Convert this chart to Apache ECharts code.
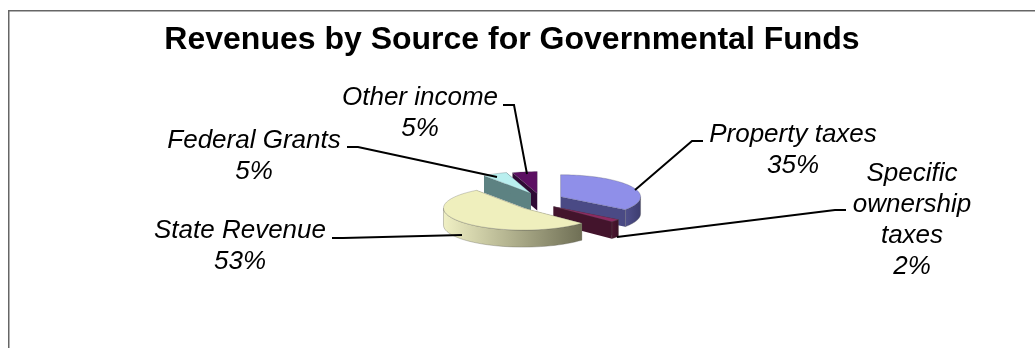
<!DOCTYPE html>
<html>
<head>
<meta charset="utf-8">
<style>html,body{margin:0;padding:0;background:#fff}#chart{width:1035px;height:348px}</style>
<script src="https://cdn.jsdelivr.net/npm/echarts@6/dist/echarts.min.js"></script>
</head>
<body>
<div id="chart"></div>
<script>
// Revenue sources and their shares, in percent
const categories = ['Property taxes', 'Specific ownership taxes', 'State Revenue', 'Federal Grants', 'Other income'];
const shares = [35, 2, 53, 5, 5];

// Wrapped label text
const labelLines = [['Property taxes'], ['Specific', 'ownership', 'taxes'], ['State Revenue'], ['Federal Grants'], ['Other income']];
// Label anchor (centre x, middle of first line y) and leader path per slice
const labelAnchors = [[793, 135], [912, 174], [240, 231], [254, 141], [420, 98]];
const leaderPaths = [
  [[703, 141], [692, 141], [635, 190]],
  [[846, 210], [835, 210], [617, 237]],
  [[332, 238], [343, 238], [462, 235]],
  [[347, 147], [358, 147], [497, 177]],
  [[503, 105], [514, 105], [527, 174]]
];
// Painted back to front
const drawOrder = [4, 3, 0, 1, 2];
const explodeFactor = [1.05, 0.8, 1, 0.9, 0.8];
const topColors = ['#8f8fe9', '#8f2a62', '#efefbd', '#b9efef', '#5c0f62'];
const wallColors = ['#4a4a85', '#43142c', '#c9c99c', '#5d8282', '#2f0a35'];
// Curved wall shading, left to right
const rimStops = [
  ['#50508c', '#3d3d70'], ['#4e1832', '#3a1025'], ['#f0f0c4', '#6f6f55'], ['#6a9090', '#4f7070'], ['#3a0d40', '#2a0830']
];

const CX = 540, CY = 201.5, RX = 80, RY = 22, DEPTH = 17, EX = 22, EY = 10, LINE_H = 31;
const FONT = 'italic 26px "Liberation Sans", Arial, sans-serif';
const total = shares.reduce((a, b) => a + b, 0);

function sliceAngles(i) {
  let before = 0;
  for (let k = 0; k < i; k++) before += shares[k];
  return [before / total * Math.PI * 2, (before + shares[i]) / total * Math.PI * 2];
}

function rimPoint(cx, cy, a, dy) {
  return [cx + RX * Math.sin(a), cy - RY * Math.cos(a) + (dy || 0)];
}

function renderSlice(params, api) {
  const i = api.value(0);
  const [a0, a1] = sliceAngles(i);
  const mid = (a0 + a1) / 2;
  const f = explodeFactor[i];
  const cx = CX + EX * f * Math.sin(mid), cy = CY - EY * f * Math.cos(mid);
  const steps = Math.max(6, Math.round((a1 - a0) * 30));
  const arc = [];
  for (let s = 0; s <= steps; s++) arc.push(rimPoint(cx, cy, a0 + (a1 - a0) * s / steps));
  const children = [];

  // Radial cut faces
  [a0, a1].forEach(a => {
    const p = rimPoint(cx, cy, a);
    children.push({
      type: 'polygon',
      shape: { points: [[cx, cy], p, [p[0], p[1] + DEPTH], [cx, cy + DEPTH]] },
      style: { fill: wallColors[i] }
    });
  });

  // Curved outer wall, front half only
  const lo = Math.max(a0, Math.PI / 2), hi = Math.min(a1, Math.PI * 1.5);
  if (hi > lo) {
    const upper = [], lower = [];
    for (let s = 0; s <= 40; s++) {
      const a = lo + (hi - lo) * s / 40;
      upper.push(rimPoint(cx, cy, a));
      lower.unshift(rimPoint(cx, cy, a, DEPTH));
    }
    children.push({
      type: 'polygon',
      shape: { points: upper.concat(lower) },
      style: {
        fill: new echarts.graphic.LinearGradient(0, 0, 1, 0, [
          { offset: 0, color: rimStops[i][0] },
          { offset: 1, color: rimStops[i][1] }
        ]),
        stroke: 'rgba(90,90,80,0.55)',
        lineWidth: 0.6
      }
    });
  }

  // Top face
  children.push({
    type: 'polygon',
    shape: { points: [[cx, cy]].concat(arc) },
    style: { fill: topColors[i], stroke: 'rgba(70,70,80,0.5)', lineWidth: 0.5 }
  });

  return { type: 'group', children };
}

function renderLabel(params, api) {
  const i = api.value(0);
  const [x, y] = labelAnchors[i];
  const lines = labelLines[i].concat([Math.round(shares[i] / total * 100) + '%']);
  const children = lines.map((t, n) => ({
    type: 'text',
    style: {
      text: t, x: x, y: y + n * LINE_H, font: FONT, fill: '#000',
      align: 'center', verticalAlign: 'middle'
    }
  }));
  children.push({
    type: 'polyline',
    shape: { points: leaderPaths[i] },
    style: { stroke: '#000', lineWidth: 2, fill: null }
  });
  return { type: 'group', children };
}

const chart = echarts.init(document.getElementById('chart'), null, { renderer: 'canvas' });
chart.setOption({
  animation: false,
  backgroundColor: '#fff',
  title: {
    text: 'Revenues by Source for Governmental Funds',
    left: 512, top: 24, textAlign: 'center', padding: 0,
    textStyle: { fontFamily: '"Liberation Sans", Arial, sans-serif', fontSize: 32, fontWeight: 'bold', color: '#000' }
  },
  graphic: [{
    type: 'polyline',
    shape: { points: [[8.75, 348], [8.75, 10.75], [1035, 10.75]] },
    style: { stroke: '#666', lineWidth: 1.5, fill: null }
  }],
  series: [
    {
      type: 'custom', coordinateSystem: 'none', renderItem: renderSlice, silent: true,
      data: drawOrder.map(i => ({ name: categories[i], value: [i, shares[i]] }))
    },
    {
      type: 'custom', coordinateSystem: 'none', renderItem: renderLabel, silent: true, z: 3,
      data: categories.map((name, i) => ({ name, value: [i, shares[i]] }))
    }
  ]
});
</script>
</body>
</html>
